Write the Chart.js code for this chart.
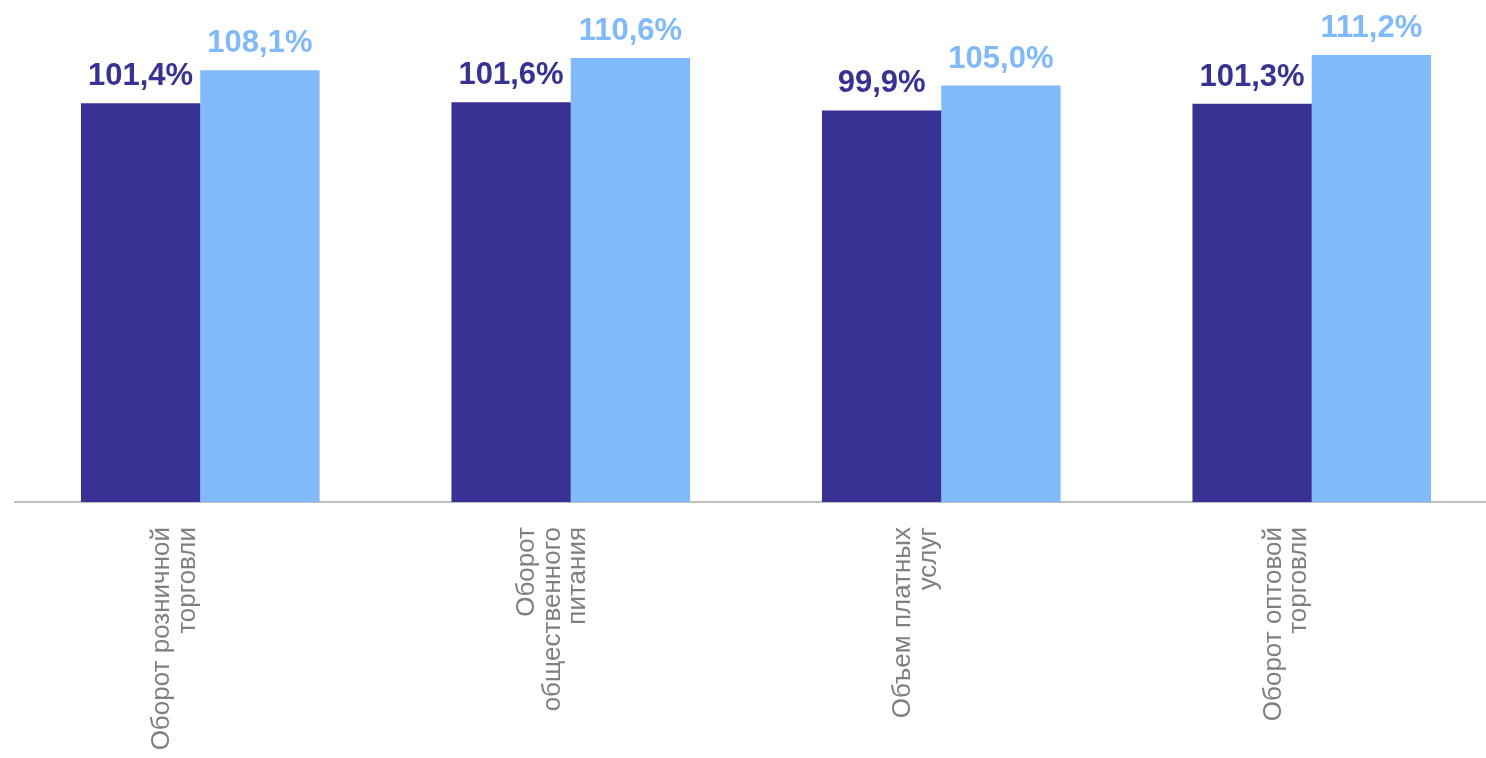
<!DOCTYPE html>
<html>
<head>
<meta charset="utf-8">
<script src="https://cdn.jsdelivr.net/npm/chart.js@4"></script>
<style>
  html, body { margin: 0; padding: 0; background: #fff; overflow: hidden; }
  #wrap { width: 1497px; height: 758px; position: relative; }
</style>
</head>
<body>
<div id="wrap"><canvas id="chart"></canvas></div>
<script>
// categories (line breaks as in the original labels)
const categories = [
  ['Оборот розничной', 'торговли'],
  ['Оборот', 'общественного', 'питания'],
  ['Объем платных', 'услуг'],
  ['Оборот оптовой', 'торговли']
];
const series1 = [101.4, 101.6, 99.9, 101.3];
const series2 = [108.1, 110.6, 105.0, 111.2];

const darkColor = '#373293';
const lightColor = '#80bafa';
const FONT = '"Liberation Sans", Arial, sans-serif';

// value labels above bars
const valueLabels = {
  id: 'valueLabels',
  afterDatasetsDraw(chart) {
    const ctx = chart.ctx;
    ctx.save();
    ctx.font = 'bold 31px ' + FONT;
    ctx.textAlign = 'center';
    ctx.textBaseline = 'alphabetic';
    chart.data.datasets.forEach((ds, d) => {
      chart.getDatasetMeta(d).data.forEach((bar, i) => {
        ctx.fillStyle = ds.backgroundColor;
        ctx.fillText(ds.data[i].toFixed(1).replace('.', ',') + '%', bar.x, bar.y - 18);
      });
    });
    ctx.restore();
  }
};

// vertical category labels under the axis
const verticalTicks = {
  id: 'verticalTicks',
  afterDraw(chart) {
    const ctx = chart.ctx;
    const xs = chart.scales.x;
    const lh = 25.5;
    ctx.save();
    ctx.font = '26px ' + FONT;
    ctx.fillStyle = '#7f7f7f';
    ctx.textAlign = 'right';
    ctx.textBaseline = 'alphabetic';
    categories.forEach((lines, i) => {
      const cx = xs.getPixelForValue(i);
      const n = lines.length;
      const base = -33.5 + 7.5 * n;
      lines.forEach((line, j) => {
        ctx.save();
        ctx.translate(cx + base + (j - (n - 1) / 2) * lh, 527);
        ctx.rotate(-Math.PI / 2);
        ctx.fillText(line, 0, 0);
        ctx.restore();
      });
    });
    ctx.restore();
  }
};

new Chart(document.getElementById('chart'), {
  type: 'bar',
  data: {
    labels: categories,
    datasets: [
      { data: series1, backgroundColor: darkColor, borderWidth: 0 },
      { data: series2, backgroundColor: lightColor, borderWidth: 0 }
    ]
  },
  options: {
    responsive: true,
    maintainAspectRatio: false,
    animation: false,
    layout: { padding: { left: 15, right: 0, top: 12, bottom: 256 } },
    categoryPercentage: 0.644,
    barPercentage: 1.0,
    plugins: {
      legend: { display: false },
      tooltip: { enabled: false }
    },
    scales: {
      x: {
        grid: { display: false, drawTicks: false },
        border: { display: true, color: '#bfbfbf', width: 2 },
        ticks: { display: false }
      },
      y: {
        display: false,
        min: 20,
        max: 120
      }
    }
  },
  plugins: [valueLabels, verticalTicks]
});
</script>
</body>
</html>
